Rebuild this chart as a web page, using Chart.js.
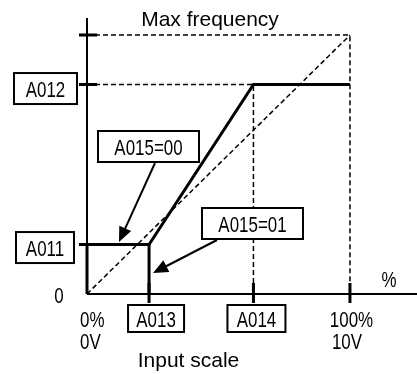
<!DOCTYPE html>
<html><head><meta charset="utf-8">
<script src="https://cdn.jsdelivr.net/npm/chart.js@4/dist/chart.umd.min.js"></script>
<style>html,body{margin:0;padding:0;background:#fff;}#wrap{width:417px;height:374px;}</style>
</head><body><div id="wrap"><canvas id="c" width="417" height="374"></canvas></div>
<script>
// Parameter settings (x in % of input scale, y in % of max frequency)
const paramNames  = ['A011', 'A012', 'A013', 'A014'];
const paramValues = [19.1, 80.9, 23.6, 63.3];
const A011 = paramValues[0], A012 = paramValues[1], A013 = paramValues[2], A014 = paramValues[3];

// Axis marks
const inputTicks  = [0, A013, A014, 100];
const inputTickLabels = ['0%\n0V', 'A013', 'A014', '100%\n10V'];
const outputTicks = [0, A011, A012, 100];
const outputTickLabels = ['0', 'A011', 'A012', 'Max frequency'];

// Curves
const curve00X = [0, A013, A014, 100];
const curve00Y = [A011, A011, A012, A012];
const curve01X = [0, 0, A013, A013];
const curve01Y = [0, A011, A011, 0];
const diagonalX = [0, 100];
const diagonalY = [0, 100];
const maxGuideX = [0, 100, 100];
const maxGuideY = [100, 100, 0];
const a012GuideX = [0, A014, A014];
const a012GuideY = [A012, A012, 0];

const pts = (xs, ys) => xs.map((x, i) => ({x, y: ys[i]}));

const BLACK = '#000';
const narrowFont = '22px "Liberation Sans", Arial, sans-serif';
const regFont = '21px "Liberation Sans", Arial, sans-serif';

function narrowText(ctx, text, x, y, align) {
  ctx.save();
  ctx.font = narrowFont;
  const s = 0.77;
  const w = ctx.measureText(text).width * s;
  let left = x;
  if (align === 'center') left = x - w / 2;
  else if (align === 'right') left = x - w;
  ctx.translate(left, y);
  ctx.scale(s, 1);
  ctx.textAlign = 'left';
  ctx.textBaseline = 'alphabetic';
  ctx.fillStyle = BLACK;
  ctx.fillText(text, 0, 0);
  ctx.restore();
}
function boxText(ctx, text, cx, cy, w, h) {
  ctx.save();
  ctx.lineWidth = 2;
  ctx.strokeStyle = BLACK;
  ctx.fillStyle = '#fff';
  ctx.fillRect(cx - w / 2, cy - h / 2, w, h);
  ctx.strokeRect(cx - w / 2, cy - h / 2, w, h);
  ctx.restore();
  narrowText(ctx, text, cx, cy + 8.5, 'center');
}
function arrow(ctx, x1, y1, x2, y2) {
  const ang = Math.atan2(y2 - y1, x2 - x1);
  const L = 15, W = 6.5;
  ctx.save();
  ctx.strokeStyle = BLACK; ctx.fillStyle = BLACK; ctx.lineWidth = 2;
  ctx.beginPath();
  ctx.moveTo(x1, y1);
  ctx.lineTo(x2 - Math.cos(ang) * L * 0.8, y2 - Math.sin(ang) * L * 0.8);
  ctx.stroke();
  ctx.beginPath();
  ctx.moveTo(x2, y2);
  ctx.lineTo(x2 - Math.cos(ang) * L + Math.sin(ang) * W, y2 - Math.sin(ang) * L - Math.cos(ang) * W);
  ctx.lineTo(x2 - Math.cos(ang) * L - Math.sin(ang) * W, y2 - Math.sin(ang) * L + Math.cos(ang) * W);
  ctx.closePath();
  ctx.fill();
  ctx.restore();
}

const diagramPlugin = {
  id: 'diagram',
  afterDatasetsDraw(chart) {
    const ctx = chart.ctx;
    const xs = chart.scales.x, ys = chart.scales.y;
    const X = v => xs.getPixelForValue(v), Y = v => ys.getPixelForValue(v);
    const x0 = X(0), y0 = Y(0);
    ctx.save();
    ctx.strokeStyle = BLACK;
    // axes
    ctx.lineWidth = 2;
    ctx.beginPath();
    ctx.moveTo(x0, chart.chartArea.top); ctx.lineTo(x0, y0);
    ctx.moveTo(x0, y0); ctx.lineTo(chart.chartArea.right, y0);
    ctx.stroke();
    // ticks
    ctx.lineWidth = 3;
    ctx.beginPath();
    outputTicks.forEach((v, i) => { if (i > 0) { ctx.moveTo(x0 - 8, Y(v)); ctx.lineTo(x0 + 10, Y(v)); } });
    inputTicks.forEach((v, i) => { if (i > 0) { ctx.moveTo(X(v), y0 - 11); ctx.lineTo(X(v), y0 + 9); } });
    ctx.stroke();
    ctx.restore();

    // y labels
    narrowText(ctx, outputTickLabels[0], x0 - 28, y0 + 9, 'center');
    boxText(ctx, outputTickLabels[1], x0 - 42, Y(A011) + 3, 58, 31);
    boxText(ctx, outputTickLabels[2], x0 - 41.5, Y(A012) + 4, 63, 31);
    ctx.save();
    ctx.font = regFont; ctx.fillStyle = BLACK; ctx.textAlign = 'center'; ctx.textBaseline = 'alphabetic';
    ctx.fillText(outputTickLabels[3], 210, Y(100) - 9);
    ctx.restore();

    // x labels
    const [l0a, l0b] = inputTickLabels[0].split('\n');
    narrowText(ctx, l0a, x0 - 7, y0 + 33, 'left');
    narrowText(ctx, l0b, x0 - 7, y0 + 55, 'left');
    boxText(ctx, inputTickLabels[1], X(A013) + 7, y0 + 24.5, 56, 27);
    boxText(ctx, inputTickLabels[2], X(A014) + 3, y0 + 24.5, 58, 27);
    const [l3a, l3b] = inputTickLabels[3].split('\n');
    narrowText(ctx, l3a, X(100) + 1.5, y0 + 33, 'center');
    narrowText(ctx, l3b, X(100) - 3, y0 + 55, 'center');
    narrowText(ctx, '%', 389, y0 - 7, 'center');
    ctx.save();
    ctx.font = regFont; ctx.fillStyle = BLACK; ctx.textAlign = 'center'; ctx.textBaseline = 'alphabetic';
    ctx.fillText('Input scale', 188.5, y0 + 73);
    ctx.restore();

    // callouts
    arrow(ctx, 155, 163, 119, 242);
    boxText(ctx, 'A015=00', 148.5, 146.5, 101, 31);
    arrow(ctx, 217, 240, 153, 273);
    boxText(ctx, 'A015=01', 252.5, 223.5, 101, 31);
  }
};

const solid = {borderColor: BLACK, borderWidth: 3, pointRadius: 0, showLine: true, clip: false, borderJoinStyle: 'miter', tension: 0};
const dashed = {borderColor: BLACK, borderWidth: 1.5, borderDash: [5, 3], pointRadius: 0, showLine: true, clip: false, tension: 0};

new Chart(document.getElementById('c'), {
  type: 'scatter',
  data: {
    datasets: [
      Object.assign({label: 'Diagonal', data: pts(diagonalX, diagonalY)}, dashed),
      Object.assign({label: 'Max frequency guide', data: pts(maxGuideX, maxGuideY)}, dashed),
      Object.assign({label: 'A012 guide', data: pts(a012GuideX, a012GuideY)}, dashed),
      Object.assign({label: 'A015=00', data: pts(curve00X, curve00Y)}, solid),
      Object.assign({label: 'A015=01', data: pts(curve01X, curve01Y)}, solid)
    ]
  },
  options: {
    responsive: false,
    devicePixelRatio: 1,
    animation: false,
    layout: {padding: {left: 87, right: 0, top: 18, bottom: 80}},
    plugins: {legend: {display: false}, tooltip: {enabled: false}, title: {display: false}},
    scales: {
      x: {type: 'linear', min: 0, max: 125.5, display: false},
      y: {type: 'linear', min: 0, max: 106.6, display: false}
    }
  },
  plugins: [diagramPlugin]
});
</script>
</body></html>
